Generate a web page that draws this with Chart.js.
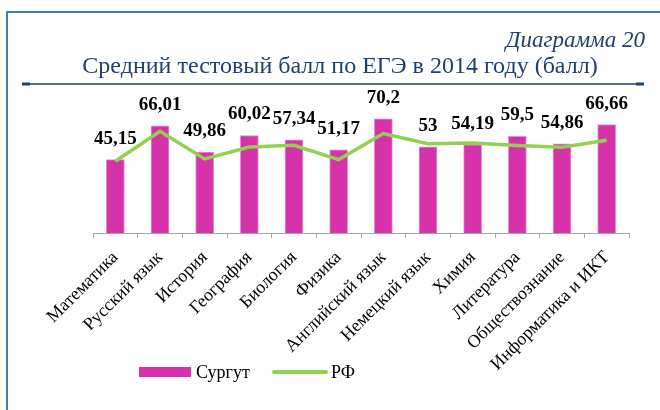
<!DOCTYPE html>
<html lang="ru">
<head>
<meta charset="utf-8">
<title>Диаграмма 20</title>
<script src="https://cdn.jsdelivr.net/npm/chart.js@4/dist/chart.umd.min.js"></script>
<style>
  html, body { margin: 0; padding: 0; background: #ffffff; }
  #wrap { width: 660px; height: 410px; }
</style>
</head>
<body>
<div id="wrap"><canvas id="ChartEge" width="660" height="410"></canvas></div>
<script>
(function () {
  "use strict";

  // Data
  const subjects = [
    'Математика', 'Русский язык', 'История', 'География', 'Биология', 'Физика',
    'Английский язык', 'Немецкий язык', 'Химия', 'Литература', 'Обществознание',
    'Информатика и ИКТ'
  ];
  const surgut = [45.15, 66.01, 49.86, 60.02, 57.34, 51.17, 70.2, 53, 54.19, 59.5, 54.86, 66.66];
  const rf     = [44.2, 62.6, 45.6, 52.9, 54.0, 45.2, 61.2, 55.0, 55.4, 53.8, 52.8, 57.1];

  const seriesNames = ['Сургут', 'РФ'];
  const captionText = 'Диаграмма 20';
  const titleText = 'Средний тестовый балл по ЕГЭ в 2014 году (балл)';

  // Colors
  const bar_color   = '#D633AA';
  const line_color  = '#92D050';
  const navy        = '#1F3F6E';
  const frame_color = '#4A78B0';
  const serif       = 'Liberation Serif';

  const fmt = function (v) { return String(v).replace('.', ','); };

  // frame, titles, value labels, legend
  const decorations = {
    id: 'decorations',
    beforeDraw(chart) {
      const c = chart.ctx;
      c.save();
      c.fillStyle = '#ffffff';
      c.fillRect(0, 0, chart.width, chart.height);
      // outer frame (top + left)
      c.strokeStyle = frame_color;
      c.lineWidth = 2;
      c.beginPath();
      c.moveTo(7, chart.height);
      c.lineTo(7, 12);
      c.lineTo(chart.width, 12);
      c.stroke();
      // captions
      c.fillStyle = navy;
      c.textBaseline = 'alphabetic';
      c.font = 'italic 23px "' + serif + '"';
      c.textAlign = 'right';
      c.fillText(captionText, 645, 47);
      c.font = '24px "' + serif + '"';
      c.textAlign = 'center';
      c.fillText(titleText, 340, 73);
      // rule under the title
      c.strokeStyle = navy;
      c.lineWidth = 1.5;
      c.beginPath();
      c.moveTo(22, 84);
      c.lineTo(644, 84);
      c.stroke();
      c.lineWidth = 3;
      c.beginPath();
      c.moveTo(22, 84); c.lineTo(30, 84);
      c.moveTo(636, 84); c.lineTo(644, 84);
      c.stroke();
      c.restore();
    },
    afterDatasetsDraw(chart) {
      const c = chart.ctx;
      const meta = chart.getDatasetMeta(0);
      c.save();
      c.fillStyle = '#000000';
      c.font = 'bold 19px "' + serif + '"';
      c.textAlign = 'center';
      c.textBaseline = 'middle';
      meta.data.forEach(function (bar, i) {
        c.fillText(fmt(surgut[i]), bar.x, bar.y - 21);
      });
      c.restore();
    },
    afterDraw(chart) {
      const c = chart.ctx;
      c.save();
      const ly = 372;
      c.fillStyle = bar_color;
      c.fillRect(139, ly - 5, 52, 10);
      c.strokeStyle = line_color;
      c.lineWidth = 4;
      c.lineCap = 'round';
      c.beginPath();
      c.moveTo(274, ly);
      c.lineTo(326, ly);
      c.stroke();
      c.fillStyle = '#000000';
      c.font = '18px "' + serif + '"';
      c.textAlign = 'left';
      c.textBaseline = 'middle';
      c.fillText(seriesNames[0], 196, ly + 1);
      c.fillText(seriesNames[1], 331, ly + 1);
      c.restore();
    }
  };

  const ctx = document.getElementById('ChartEge').getContext('2d');
  const EgeChart = new Chart(ctx, {
    type: 'bar',
    data: {
      labels: subjects,
      datasets: [{
        type: 'bar',
        label: seriesNames[0],
        data: surgut,
        backgroundColor: bar_color,
        borderColor: '#E88FCF',
        borderWidth: 1,
        barThickness: 18,
        order: 1
      }, {
        type: 'line',
        label: seriesNames[1],
        data: rf,
        borderColor: line_color,
        borderWidth: 3.5,
        tension: 0,
        pointRadius: 0,
        fill: false,
        order: 0
      }]
    },
    options: {
      responsive: false,
      animation: false,
      layout: {
        padding: { left: 93, right: 31, top: 103, bottom: 0 }
      },
      scales: {
        x: {
          offset: true,
          afterFit: function (scale) { scale.height = 177; },
          grid: {
            offset: true,
            drawOnChartArea: false,
            drawTicks: true,
            tickLength: 5,
            color: '#A6A6A6'
          },
          border: { color: '#A6A6A6', width: 1 },
          ticks: {
            color: '#000000',
            font: { family: serif, size: 18 },
            minRotation: 45,
            maxRotation: 45,
            autoSkip: false,
            padding: 9
          }
        },
        y: {
          display: false,
          min: 0,
          max: 80
        }
      },
      plugins: {
        legend: { display: false },
        tooltip: { enabled: false }
      }
    },
    plugins: [decorations]
  });
})();
</script>
</body>
</html>
